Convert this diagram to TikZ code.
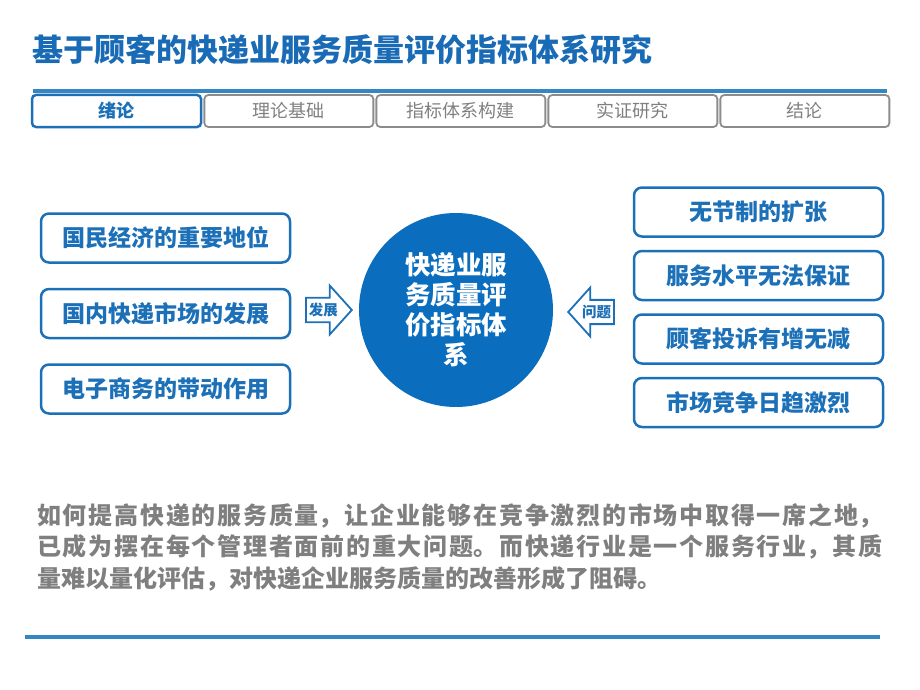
\documentclass[tikz,border=0pt]{standalone}
\usepackage{fontspec}
\setmainfont{Noto Sans CJK SC}
\XeTeXlinebreaklocale "zh"
\XeTeXlinebreakskip=0pt plus 2pt
\usetikzlibrary{positioning,shapes.arrows}
\definecolor{titleblue}{HTML}{1A6BB5}
\definecolor{boxblue}{HTML}{1C70B7}
\definecolor{circblue}{HTML}{0B6DBD}
\definecolor{lineblue}{HTML}{3686C3}
\definecolor{tabgray}{HTML}{8C8C8C}
\definecolor{textgray}{HTML}{7F7F7F}
\begin{document}
\begin{tikzpicture}[x=1pt, y=-1pt,
    tab/.style ={draw=tabgray, line width=1.8pt, rounded corners=4pt, minimum width=169pt, minimum height=32pt, inner sep=0pt, text=textgray, font=\fontsize{18}{20}\selectfont},
    curtab/.style ={tab, draw=boxblue, line width=2.5pt, text=boxblue, font=\fontsize{18}{20}\selectfont\bfseries},
    reason/.style ={draw=boxblue, line width=2.5pt, rounded corners=8pt, minimum width=249pt, minimum height=49pt, text=boxblue, font=\fontsize{23}{25}\selectfont\bfseries},
    arrowbox/.style ={draw=boxblue, line width=1.8pt, fill=white, single arrow, single arrow head extend=10pt, single arrow tip angle=96, minimum width=49pt, minimum height=45pt, inner sep=2pt, text=boxblue, font=\fontsize{14.5}{15}\selectfont\bfseries}]
    \useasboundingbox (0,0) rectangle (920,690);
    % title
    \node[anchor=west, inner sep=0pt, text=titleblue, font=\fontsize{31}{33}\selectfont\bfseries] (title) at (32,50) {基于顾客的快递业服务质量评价指标体系研究};
    \draw[lineblue, line width=4pt] (33,91) -- (887,91);
    % tabs
    \node[curtab] (t1) at (116.5,111) {绪论};
    \node[tab] (t2) [right=1.2pt of t1] {理论基础};
    \node[tab] (t3) [right=1.2pt of t2] {指标体系构建};
    \node[tab] (t4) [right=1.2pt of t3] {实证研究};
    \node[tab] (t5) [right=1.2pt of t4] {结论};
    % center
    \node[circle, fill=circblue, minimum size=194pt, inner sep=0pt, align=center, text=white, font=\fontsize{25.5}{30}\selectfont\bfseries] (core) at (456,310) {快递业服\\务质量评\\价指标体\\系};
    % left side
    \node[reason] (l1) at (165.5,238) {国民经济的重要地位};
    \node[reason] (l2) [below=24pt of l1] {国内快递市场的发展};
    \node[reason] (l3) [below=24pt of l2] {电子商务的带动作用};
    \node[arrowbox, anchor=tip] (dev) at (353,310) {发展};
    % right side
    \node[reason] (r1) at (758.5,212) {无节制的扩张};
    \node[reason] (r2) [below=12pt of r1] {服务水平无法保证};
    \node[reason] (r3) [below=12pt of r2] {顾客投诉有增无减};
    \node[reason] (r4) [below=12pt of r3] {市场竞争日趋激烈};
    \node[arrowbox, shape border rotate=180, anchor=tip] (prob) at (567,312) {问题};
    % text
    \node[anchor=north west, inner sep=0pt, text width=845pt, align=justify, text=textgray, font=\fontsize{24}{31.5}\selectfont\bfseries] (para) at (37,503) {如何提高快递的服务质量，让企业能够在竞争激烈的市场中取得一席之地，\linebreak 已成为摆在每个管理者面前的重大问题。而快递行业是一个服务行业，其质\linebreak 量难以量化评估，对快递企业服务质量的改善形成了阻碍。};
    \draw[lineblue, line width=4.5pt] (25,637) -- (880,637);
\end{tikzpicture}
\end{document}
